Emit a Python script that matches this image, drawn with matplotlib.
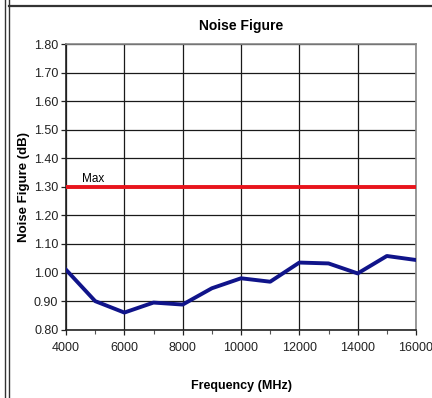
import matplotlib
matplotlib.use('Agg')
import matplotlib.pyplot as plt
from matplotlib.lines import Line2D
from matplotlib.ticker import MultipleLocator

plt.rcParams['font.family'] = ['Liberation Sans', 'DejaVu Sans']

# Data
freq = [4000, 5000, 6000, 7000, 8000, 9000, 10000, 11000, 12000, 13000, 14000, 15000, 16000]
nf = [1.01, 0.90, 0.86, 0.895, 0.888, 0.945, 0.98, 0.968, 1.035, 1.032, 0.997, 1.058, 1.044]
max_nf = 1.30

fig = plt.figure(figsize=(4.32, 3.98), dpi=100)
ax = fig.add_axes([0.1528, 0.1716, 0.8102, 0.7178])

ax.plot(freq, nf, color='#10148a', lw=2.8, zorder=3)
ax.axhline(max_nf, color='#e8141c', lw=2.8, zorder=3)
ax.text(4550, max_nf + 0.008, 'Max', fontsize=8.5, ha='left', va='bottom')

ax.set_xlim(4000, 16000)
ax.set_ylim(0.80, 1.80)
ax.xaxis.set_major_locator(MultipleLocator(2000))
ax.xaxis.set_minor_locator(MultipleLocator(1000))
ax.yaxis.set_major_locator(MultipleLocator(0.1))
ax.set_yticklabels([f'{v:.2f}' for v in ax.get_yticks()])
ax.grid(True, which='major', color='#1a1a1a', lw=0.9)
ax.tick_params(which='major', direction='out', length=3.5, width=0.9, labelsize=9, pad=2, colors='#222222')
ax.tick_params(which='minor', direction='out', length=3, width=0.8, colors='#555555')
ax.tick_params(axis='x', pad=5)
for s in ax.spines.values():
    s.set_color('#888888')
    s.set_linewidth(1.2)
ax.spines['left'].set_color('#222222')
ax.spines['bottom'].set_color('#222222')

ax.set_title('Noise Figure', fontsize=10, fontweight='bold', pad=10)
ax.set_xlabel('Frequency (MHz)', fontsize=9, fontweight='bold', labelpad=19)
ax.set_ylabel('Noise Figure (dB)', fontsize=9.5, fontweight='bold', labelpad=3)

# outer frame lines
fig.add_artist(Line2D([4.5 / 432, 4.5 / 432], [0, 1], color='#333333', lw=1.0))
fig.add_artist(Line2D([8.5 / 432, 8.5 / 432], [0, 1], color='#333333', lw=1.0))
fig.add_artist(Line2D([8.5 / 432, 1], [1 - 5.5 / 398, 1 - 5.5 / 398], color='#333333', lw=1.6))

fig.savefig('out.png', dpi=100)
